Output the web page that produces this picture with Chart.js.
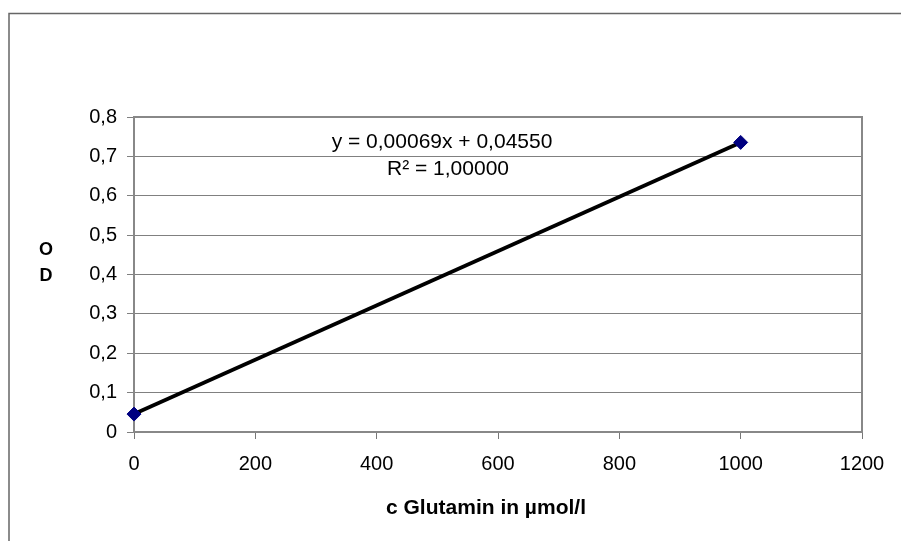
<!DOCTYPE html>
<html><head><meta charset="utf-8">
<script src="https://cdn.jsdelivr.net/npm/chart.js@4/dist/chart.umd.min.js"></script>
<style>html,body{margin:0;padding:0;background:#fff;overflow:hidden}canvas{display:block}</style>
</head><body>
<canvas id="c" width="901" height="541"></canvas>
<script>
// ---- data ----
const concentrations = [0, 1000];          // c Glutamin in µmol/l
const odValues = [0.0455, 0.7355];         // OD
const xTickValues = [0, 200, 400, 600, 800, 1000, 1200];
const yTickValues = [0, 0.1, 0.2, 0.3, 0.4, 0.5, 0.6, 0.7, 0.8];
const equationLine = 'y = 0,00069x + 0,04550';
const rSquaredLine = 'R² = 1,00000';
const xAxisTitle = 'c Glutamin in µmol/l';
const yAxisTitle = ['O', 'D'];

const FONT = '"Liberation Sans", Arial, sans-serif';
Chart.defaults.color = '#000';
Chart.defaults.font.family = FONT;

const fmt = v => (Math.abs(v) < 1e-9 ? '0' : v.toFixed(1).replace('.', ','));

const decor = {
  id: 'decor',
  beforeDraw(chart) {
    const ctx = chart.ctx;
    ctx.save();
    ctx.strokeStyle = '#666';
    ctx.lineWidth = 1.5;
    ctx.beginPath();
    ctx.moveTo(9, 541); ctx.lineTo(9, 13.5); ctx.lineTo(901, 13.5);
    ctx.stroke();
    ctx.restore();
  },
  beforeDatasetsDraw(chart) {
    const {ctx, chartArea: a} = chart;
    ctx.save();
    ctx.strokeStyle = '#888';
    ctx.lineWidth = 2;
    ctx.strokeRect(a.left, a.top, a.right - a.left, a.bottom - a.top);
    ctx.restore();
  },
  afterDraw(chart) {
    const {ctx} = chart;
    ctx.save();
    ctx.fillStyle = '#000';
    ctx.textAlign = 'center';
    ctx.textBaseline = 'alphabetic';
    ctx.font = '21px ' + FONT;
    ctx.fillText(equationLine, 442, 148);
    ctx.fillText(rSquaredLine, 448, 175);
    ctx.font = 'bold 21px ' + FONT;
    ctx.fillText(xAxisTitle, 486, 514);
    ctx.font = 'bold 18px ' + FONT;
    ctx.fillText(yAxisTitle[0], 46, 255);
    ctx.fillText(yAxisTitle[1], 46, 281);
    ctx.restore();
  }
};

new Chart(document.getElementById('c'), {
  type: 'scatter',
  data: {
    datasets: [{
      data: concentrations.map((x, i) => ({x, y: odValues[i]})),
      showLine: true,
      borderColor: '#000',
      borderWidth: 3.8,
      pointStyle: 'rectRot',
      pointRadius: 7,
      pointHoverRadius: 7,
      pointBackgroundColor: '#000080',
      pointBorderColor: '#000080',
      pointBorderWidth: 1,
      clip: false
    }]
  },
  options: {
    responsive: false,
    animation: false,
    devicePixelRatio: 1,
    layout: {padding: {left: 0, right: 39, top: 117, bottom: 0}},
    plugins: {legend: {display: false}, tooltip: {enabled: false}},
    scales: {
      x: {
        type: 'linear', min: 0, max: 1200,
        afterFit: s => { s.height = 109; },
        afterBuildTicks: s => { s.ticks = xTickValues.map(v => ({value: v})); },
        ticks: {font: {size: 20}, padding: 13, callback: v => String(v), maxRotation: 0},
        grid: {drawOnChartArea: false, tickLength: 7, color: '#777', lineWidth: 1},
        border: {display: false}
      },
      y: {
        type: 'linear', min: 0, max: 0.8,
        afterFit: s => { s.width = 134; },
        afterBuildTicks: s => { s.ticks = yTickValues.map(v => ({value: v})); },
        ticks: {font: {size: 20}, padding: 10, callback: v => fmt(v)},
        grid: {color: '#808080', lineWidth: 1, tickLength: 7},
        border: {display: false}
      }
    }
  },
  plugins: [decor]
});
</script>
</body></html>
